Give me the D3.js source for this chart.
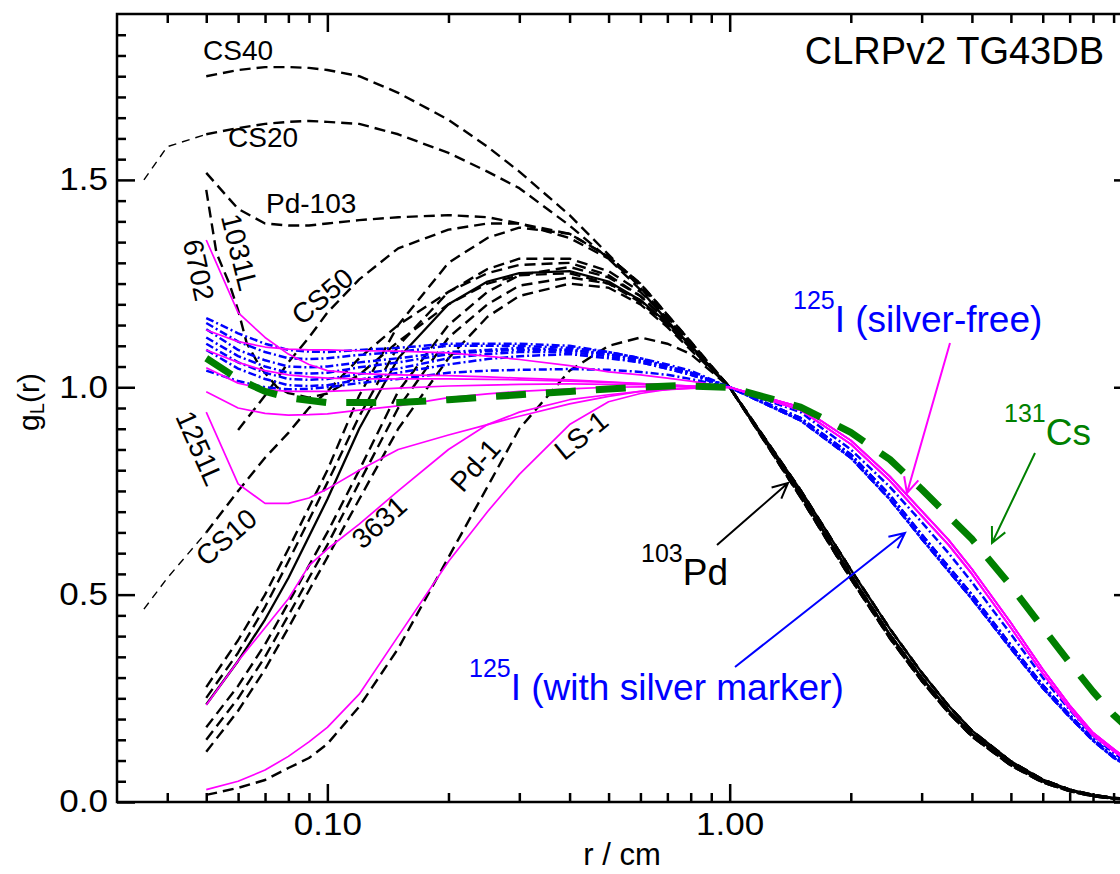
<!DOCTYPE html>
<html><head><meta charset="utf-8">
<script src="https://cdn.jsdelivr.net/npm/d3@7"></script>
<style>
body{margin:0;background:#fff;}
svg text{font-family:"Liberation Sans",Arial,Helvetica,sans-serif;}
</style></head>
<body>
<svg id="chart" width="1120" height="874"></svg>
<script>
// ---------------- data ----------------
const rHead = [0.05,0.06,0.07,0.08,0.09,0.1,0.12,0.15,0.2,0.25,0.3,0.4,0.5,0.6,0.7,0.8,1.0];
const rTail = [1.5,2,2.5,3,3.5,4,5,6,7,8,9,10];

// 103Pd sources (black)
const cs40 = [1.75,1.765,1.772,1.772,1.77,1.765,1.75,1.71,1.645,1.58,1.52,1.415,1.32,1.24,1.165,1.1,1.0];
const cs20R = [0.035,0.04,0.05,0.06,0.07,0.08,0.09,0.1,0.12,0.15,0.2,0.25,0.3,0.4,0.5,0.6,0.7,0.8,1.0];
const cs20 = [1.5,1.58,1.61,1.625,1.635,1.64,1.642,1.64,1.635,1.61,1.565,1.52,1.48,1.39,1.31,1.235,1.16,1.1,1.0];
const pd103 = [1.517,1.43,1.395,1.39,1.39,1.395,1.403,1.41,1.415,1.41,1.395,1.36,1.31,1.245,1.17,1.105,1.0];
const l1031R = [0.05,0.053,0.057,0.06,0.063,0.068,0.075,0.08,0.09,0.1,0.12,0.15,0.2,0.25,0.3,0.4,0.5,0.6,0.7,0.8,1.0];
const l1031 = [1.476,1.324,1.251,1.186,1.107,1.049,1.0,0.986,0.975,0.985,1.03,1.11,1.2,1.25,1.27,1.275,1.25,1.205,1.15,1.095,1.0];
const cs50R = [0.06,0.07,0.08,0.09,0.1,0.12,0.15,0.2,0.25,0.3,0.4,0.5,0.6,0.7,0.8,1.0];
const cs50 = [0.897,0.98,1.06,1.12,1.18,1.26,1.335,1.38,1.395,1.395,1.37,1.315,1.25,1.175,1.11,1.0];
const cs10R = [0.035,0.04,0.05,0.06,0.07,0.08,0.09,0.1,0.12,0.15,0.2,0.25,0.3,0.4,0.5,0.6,0.7,0.8,1.0];
const cs10 = [0.465,0.54,0.65,0.75,0.83,0.89,0.95,0.99,1.07,1.15,1.23,1.275,1.295,1.3,1.27,1.22,1.16,1.1,1.0];
const pdS1 = [0.277,0.39,0.5,0.61,0.71,0.8,0.98,1.15,1.3,1.36,1.385,1.37,1.315,1.25,1.175,1.11,1.0];
const pdS2 = [0.251,0.36,0.47,0.58,0.68,0.77,0.93,1.1,1.23,1.285,1.31,1.31,1.28,1.23,1.165,1.105,1.0];
const pdS3 = [0.235,0.34,0.44,0.54,0.64,0.73,0.9,1.07,1.2,1.255,1.275,1.28,1.255,1.21,1.155,1.1,1.0];
const pdS4 = [0.18,0.28,0.38,0.48,0.57,0.65,0.8,0.99,1.15,1.23,1.27,1.29,1.265,1.22,1.16,1.1,1.0];
const pdS5 = [0.15,0.25,0.35,0.45,0.54,0.62,0.77,0.95,1.12,1.2,1.245,1.265,1.25,1.21,1.15,1.095,1.0];
const pdS6 = [0.121,0.22,0.32,0.42,0.51,0.59,0.73,0.9,1.07,1.17,1.22,1.25,1.24,1.2,1.145,1.09,1.0];
const pd1 = [0.017,0.034,0.053,0.082,0.106,0.14,0.23,0.37,0.59,0.76,0.9,1.04,1.1,1.12,1.105,1.08,1.0];
const pdTailA = [0.742,0.547,0.404,0.30,0.221,0.164,0.092,0.05,0.028,0.015,0.009,0.006];
const pdTailB = [0.752,0.56,0.418,0.312,0.232,0.172,0.098,0.054,0.03,0.017,0.01,0.007];
const pdTailC = [0.735,0.538,0.395,0.292,0.215,0.158,0.088,0.047,0.026,0.014,0.008,0.005];

// 125I silver-free sources (magenta)
const m6702 = [1.355,1.18,1.12,1.08,1.055,1.04,1.033,1.03,1.028,1.025,1.022,1.018,1.013,1.009,1.006,1.003,1.0];
const mTop = [1.138,1.11,1.097,1.092,1.09,1.09,1.088,1.087,1.083,1.075,1.067,1.052,1.037,1.03,1.022,1.015,1.0];
const mMid = [1.09,1.06,1.04,1.03,1.025,1.022,1.02,1.02,1.02,1.019,1.018,1.015,1.012,1.009,1.006,1.003,1.0];
const mLow = [1.047,1.01,0.995,0.99,0.99,0.99,0.993,0.998,1.003,1.005,1.007,1.008,1.007,1.006,1.004,1.002,1.0];
const mDip = [0.989,0.95,0.937,0.933,0.934,0.936,0.945,0.955,0.975,0.984,0.99,0.996,1.0,1.001,1.002,1.001,1.0];
const m1251L = [0.94,0.767,0.72,0.72,0.733,0.755,0.8,0.85,0.885,0.91,0.93,0.96,0.978,0.99,0.995,0.998,1.0];
const m3631 = [0.234,0.34,0.42,0.49,0.57,0.61,0.67,0.75,0.85,0.91,0.94,0.97,0.982,0.99,0.994,0.997,1.0];
const mLS1 = [0.03,0.05,0.077,0.11,0.145,0.18,0.26,0.4,0.58,0.7,0.79,0.91,0.965,0.985,0.995,0.999,1.0];
const magTailA = [0.945,0.863,0.775,0.69,0.62,0.55,0.42,0.31,0.225,0.16,0.123,0.09];
const magTailB = [0.952,0.872,0.785,0.702,0.632,0.562,0.432,0.32,0.233,0.167,0.128,0.094];

// 125I sources with silver marker (blue)
const b1 = [1.167,1.13,1.105,1.09,1.086,1.085,1.09,1.095,1.105,1.105,1.105,1.1,1.085,1.07,1.055,1.04,1.0];
const b2 = [1.155,1.11,1.085,1.07,1.068,1.07,1.078,1.085,1.1,1.1,1.1,1.095,1.085,1.07,1.05,1.035,1.0];
const b3 = [1.14,1.09,1.065,1.05,1.048,1.05,1.06,1.07,1.085,1.09,1.095,1.09,1.08,1.065,1.05,1.035,1.0];
const b4 = [1.12,1.075,1.05,1.035,1.033,1.035,1.048,1.06,1.08,1.087,1.09,1.09,1.08,1.065,1.05,1.035,1.0];
const b5 = [1.105,1.06,1.035,1.02,1.018,1.02,1.032,1.045,1.07,1.08,1.085,1.085,1.075,1.06,1.045,1.03,1.0];
const b6 = [1.09,1.045,1.02,1.005,1.003,1.005,1.018,1.035,1.055,1.068,1.075,1.08,1.07,1.06,1.045,1.03,1.0];
const b7 = [1.04,1.015,1.0,0.995,0.996,1.0,1.01,1.02,1.035,1.04,1.042,1.044,1.042,1.037,1.03,1.02,1.0];
const blueTailA = [0.92,0.83,0.73,0.635,0.557,0.49,0.37,0.275,0.205,0.148,0.107,0.08];
const blueTailB = [0.926,0.838,0.74,0.645,0.567,0.5,0.378,0.282,0.21,0.152,0.11,0.082];
const blueTailC = [0.94,0.85,0.76,0.675,0.6,0.53,0.405,0.3,0.222,0.16,0.118,0.087];

// 131Cs (green)
const csR = [0.05,0.06,0.07,0.08,0.1,0.15,0.2,0.3,0.4,0.5,0.6,0.75,1,1.5,2,2.5,3,4,5,6,7,8,9,10];
const cs131 = [1.07,1.02,0.99,0.975,0.963,0.963,0.97,0.982,0.99,0.996,1.0,1.004,1.0,0.952,0.891,0.826,0.754,0.634,0.521,0.42,0.336,0.266,0.21,0.17];

// axis ticks
const xMajor = [0.1, 1];
const xMinor = [0.04,0.05,0.06,0.07,0.08,0.09,0.2,0.3,0.4,0.5,0.6,0.7,0.8,0.9,2,3,4,5,6,7,8,9];
const yMajor = [0, 0.5, 1.0, 1.5];
const yMinor = [0.05,0.1,0.15,0.2,0.25,0.3,0.35,0.4,0.45,0.55,0.6,0.65,0.7,0.75,0.8,0.85,0.9,0.95,
                1.05,1.1,1.15,1.2,1.25,1.3,1.35,1.4,1.45,1.55,1.6,1.65,1.7,1.75,1.8,1.85];

// ---------------- build series ----------------
const zip = (rs, gs) => rs.map((r, i) => [r, gs[i]]);
const withTail = (head, tail) => zip(rHead, head).concat(zip(rTail, tail));
const cs20All = zip(cs20R, cs20).concat(zip(rTail, pdTailB));
const cs10All = zip(cs10R, cs10).concat(zip(rTail, pdTailA));

const series = [
  {d: cs20All.filter(p => p[0] <= 0.05), s: "pdThin"},
  {d: cs10All.filter(p => p[0] <= 0.05), s: "pdThin"},
  {d: cs20All.filter(p => p[0] >= 0.05), s: "pd"},
  {d: cs10All.filter(p => p[0] >= 0.05), s: "pd"},
  {d: withTail(cs40, pdTailB), s: "pd"},
  {d: withTail(pd103, pdTailA), s: "pd"},
  {d: zip(l1031R, l1031).concat(zip(rTail, pdTailC)), s: "pd"},
  {d: zip(cs50R, cs50).concat(zip(rTail, pdTailB)), s: "pd"},
  {d: withTail(pdS1, pdTailA), s: "pd"},
  {d: withTail(pdS2, pdTailC), s: "pd"},
  {d: withTail(pdS3, pdTailA), s: "pdSolid"},
  {d: withTail(pdS4, pdTailB), s: "pd"},
  {d: withTail(pdS5, pdTailC), s: "pd"},
  {d: withTail(pdS6, pdTailA), s: "pd"},
  {d: withTail(pd1, pdTailB), s: "pd"},
  {d: withTail(b1, blueTailA), s: "ag"},
  {d: withTail(b2, blueTailB), s: "ag"},
  {d: withTail(b3, blueTailA), s: "ag"},
  {d: withTail(b4, blueTailB), s: "ag"},
  {d: withTail(b5, blueTailA), s: "ag"},
  {d: withTail(b6, blueTailB), s: "ag"},
  {d: withTail(b7, blueTailC), s: "ag"},
  {d: withTail(m6702, magTailA), s: "mag"},
  {d: withTail(mTop, magTailB), s: "mag"},
  {d: withTail(mMid, magTailA), s: "mag"},
  {d: withTail(mLow, magTailB), s: "mag"},
  {d: withTail(mDip, magTailA), s: "mag"},
  {d: withTail(m1251L, magTailB), s: "mag"},
  {d: withTail(m3631, magTailA), s: "mag"},
  {d: withTail(mLS1, magTailB), s: "mag"},
  {d: zip(csR, cs131), s: "cs"}
];

const styles = {
  pd:      {stroke: "#000", w: 2.4, dash: "11,6"},
  pdThin:  {stroke: "#000", w: 1.4, dash: "8,6"},
  pdSolid: {stroke: "#000", w: 2.3, dash: null},
  ag:      {stroke: "#0000ff", w: 2.5, dash: "8,3,2,3"},
  mag:     {stroke: "#ff00ff", w: 1.7, dash: null},
  cs:      {stroke: "#008000", w: 7, dash: "30,20"}
};

// ---------------- scales ----------------
const svg = d3.select("#chart");
const L = 117, R = 1132, T = 14, B = 802;
const x = d3.scaleLog().domain([0.03, 10]).range([L, R]);
const y = d3.scaleLinear().domain([0, 1.9]).range([B, T]);

svg.append("rect").attr("width", 1120).attr("height", 874).attr("fill", "#fff");
svg.append("clipPath").attr("id", "clip").append("rect")
  .attr("x", L).attr("y", T).attr("width", R - L).attr("height", B - T);

const line = d3.line().x(d => x(d[0])).y(d => y(d[1]));
const plot = svg.append("g").attr("clip-path", "url(#clip)");
plot.selectAll("path.curve").data(series).join("path")
  .attr("class", "curve")
  .attr("d", d => line(d.d))
  .attr("fill", "none")
  .attr("stroke", d => styles[d.s].stroke)
  .attr("stroke-width", d => styles[d.s].w)
  .attr("stroke-dasharray", d => styles[d.s].dash)
  .attr("stroke-linejoin", "round");

// ---------------- axes ----------------
const FS = 31;
function styleAxis(g) {
  g.select(".domain").remove();
  g.selectAll("line").attr("stroke", "#000").attr("stroke-width", 2.5);
  g.selectAll("text").attr("font-size", FS).attr("fill", "#000")
    .attr("font-family", "Liberation Sans, Arial, sans-serif")
    .attr("transform", "scale(1.13,1)");
}
svg.append("g").attr("transform", `translate(0,${B})`)
  .call(d3.axisBottom(x).tickValues(xMinor).tickSize(-9).tickFormat("")).call(styleAxis);
svg.append("g").attr("transform", `translate(0,${B})`)
  .call(d3.axisBottom(x).tickValues(xMajor).tickSize(-18).tickPadding(11).tickFormat(d3.format(".2f"))).call(styleAxis);
svg.append("g").attr("transform", `translate(0,${T})`)
  .call(d3.axisTop(x).tickValues(xMinor).tickSize(-9).tickFormat("")).call(styleAxis);
svg.append("g").attr("transform", `translate(0,${T})`)
  .call(d3.axisTop(x).tickValues(xMajor).tickSize(-18).tickFormat("")).call(styleAxis);
svg.append("g").attr("transform", `translate(${L},0)`)
  .call(d3.axisLeft(y).tickValues(yMinor).tickSize(-9).tickFormat("")).call(styleAxis);
svg.append("g").attr("transform", `translate(${L},0)`)
  .call(d3.axisLeft(y).tickValues(yMajor).tickSize(-18).tickPadding(8).tickFormat(d3.format(".1f"))).call(styleAxis);
svg.append("g").attr("transform", `translate(${R},0)`)
  .call(d3.axisRight(y).tickValues(yMinor).tickSize(-9).tickFormat("")).call(styleAxis);
svg.append("g").attr("transform", `translate(${R},0)`)
  .call(d3.axisRight(y).tickValues(yMajor).tickSize(-18).tickFormat("")).call(styleAxis);

svg.append("rect").attr("x", L).attr("y", T).attr("width", R - L).attr("height", B - T)
  .attr("fill", "none").attr("stroke", "#000").attr("stroke-width", 2.5);

// axis titles
svg.append("text").attr("x", 622).attr("y", 865).attr("text-anchor", "middle")
  .attr("font-size", 31).text("r / cm");
const yt = svg.append("text").attr("transform", "translate(39,402) rotate(-90)")
  .attr("text-anchor", "middle").attr("font-size", 30);
yt.append("tspan").text("g");
yt.append("tspan").attr("font-size", 20).attr("dy", 5).text("L");
yt.append("tspan").attr("dy", -5).text("(r)");

svg.append("text").attr("x", 1104).attr("y", 64).attr("text-anchor", "end")
  .attr("font-size", 38).text("CLRPv2 TG43DB");

// ---------------- curve labels ----------------
const flatLabels = [
  {t: "CS40", x: 203, y: 60},
  {t: "CS20", x: 228, y: 147},
  {t: "Pd-103", x: 266, y: 213}
];
svg.selectAll("text.flat").data(flatLabels).join("text").attr("class", "flat")
  .attr("x", d => d.x).attr("y", d => d.y).attr("font-size", 28).text(d => d.t);

const rotLabels = [
  {t: "1031L", x: 240, y: 252, a: 76},
  {t: "6702", x: 199, y: 270, a: 78},
  {t: "CS50", x: 322, y: 296, a: -40},
  {t: "1251L", x: 200, y: 448, a: 66},
  {t: "CS10", x: 226, y: 537, a: -41},
  {t: "3631", x: 379, y: 522, a: -42},
  {t: "Pd-1", x: 475, y: 465, a: -48},
  {t: "LS-1", x: 581, y: 435, a: -39}
];
svg.selectAll("text.rot").data(rotLabels).join("text").attr("class", "rot")
  .attr("transform", d => `translate(${d.x},${d.y}) rotate(${d.a})`)
  .attr("text-anchor", "middle").attr("dy", "0.36em")
  .attr("font-size", 28).text(d => d.t);

// ---------------- isotope annotations ----------------
const isoLabels = [
  {sup: "103", main: "Pd", x: 641, y: 585, c: "#000"},
  {sup: "125", main: "I (silver-free)", x: 793, y: 332, c: "#0000ff"},
  {sup: "131", main: "Cs", x: 1004, y: 445, c: "#008000"},
  {sup: "125", main: "I (with silver marker)", x: 469, y: 700, c: "#0000ff"}
];
isoLabels.forEach(d => {
  const t = svg.append("text").attr("x", d.x).attr("y", d.y).attr("fill", d.c);
  t.append("tspan").attr("font-size", 25).attr("dy", -23).text(d.sup);
  t.append("tspan").attr("font-size", 37).attr("dy", 23).text(d.main);
});

const arrows = [
  {x1: 717, y1: 545, x2: 788, y2: 483, c: "#000"},
  {x1: 950, y1: 343, x2: 907, y2: 493, c: "#ff00ff"},
  {x1: 735, y1: 667, x2: 905, y2: 533, c: "#0000ff"},
  {x1: 1035, y1: 453, x2: 992, y2: 543, c: "#008000"}
];
arrows.forEach(a => {
  const ang = Math.atan2(a.y2 - a.y1, a.x2 - a.x1);
  const hl = 17, ha = 0.45;
  const p1 = [a.x2 - hl * Math.cos(ang - ha), a.y2 - hl * Math.sin(ang - ha)];
  const p2 = [a.x2 - hl * Math.cos(ang + ha), a.y2 - hl * Math.sin(ang + ha)];
  svg.append("path")
    .attr("d", `M${a.x1},${a.y1}L${a.x2},${a.y2}M${p1[0]},${p1[1]}L${a.x2},${a.y2}L${p2[0]},${p2[1]}`)
    .attr("fill", "none").attr("stroke", a.c).attr("stroke-width", 2);
});
</script>
</body></html>
